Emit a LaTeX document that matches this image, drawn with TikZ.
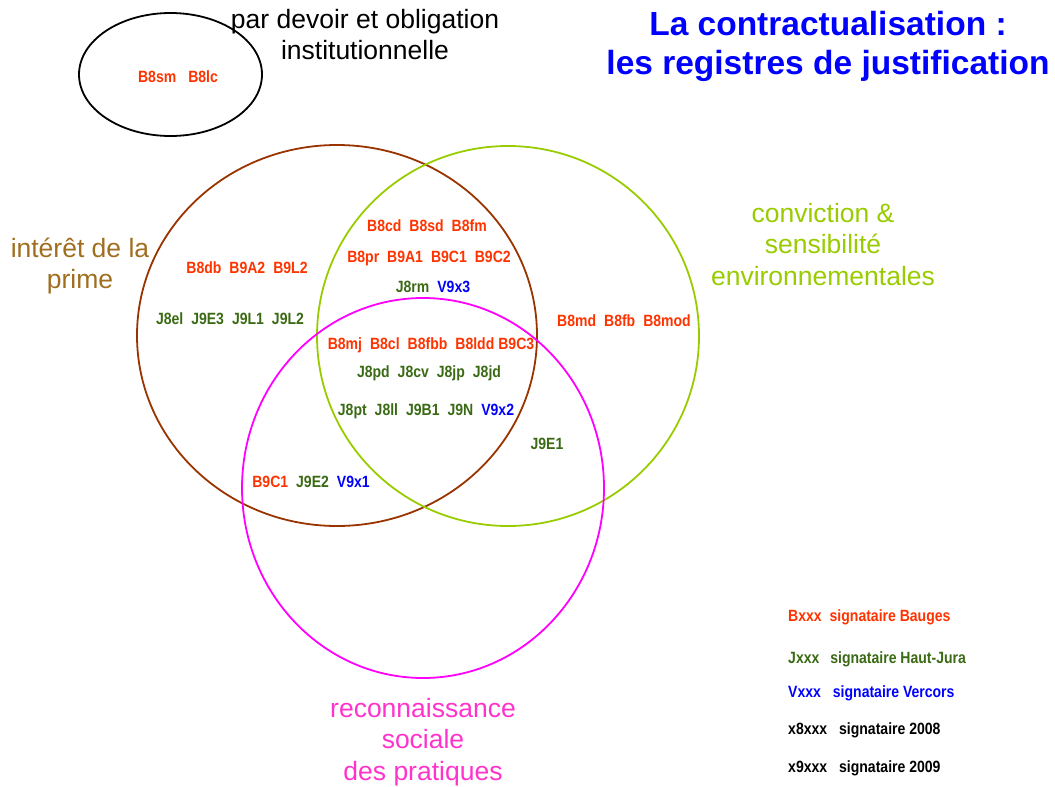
\documentclass[tikz,border=0pt]{standalone}
\usepackage{fontspec}
\setmainfont{Liberation Sans}
\newfontfamily\narrowsans[FakeStretch=0.86]{Liberation Sans}
\usetikzlibrary{shapes.geometric}
\definecolor{bauges}{HTML}{FF3300}
\definecolor{jura}{HTML}{3A6A14}
\definecolor{vercors}{HTML}{0000FF}
\definecolor{ringbrown}{HTML}{993300}
\definecolor{ringgreen}{HTML}{99CC00}
\definecolor{ringpink}{HTML}{FF00FF}
\definecolor{primetext}{HTML}{9F6F1F}
\definecolor{socialtext}{HTML}{FF33CC}
\tikzstyle{ring} = [ellipse, draw, line width=1.8pt, inner sep=0pt]
\tikzstyle{code} = [font=\narrowsans\bfseries\fontsize{16.3}{19}\selectfont, inner sep=0pt, anchor=base]
\tikzstyle{legend} = [code, anchor=base west]
\tikzstyle{theme} = [font=\fontsize{26.5}{31.5}\selectfont, align=center, inner sep=0pt]
\tikzstyle{titre} = [font=\bfseries\fontsize{33.5}{39}\selectfont, align=center, inner sep=0pt, text=vercors]
\newcommand{\esp}{\hspace{8pt}}
\begin{document}
\begin{tikzpicture}[x=1pt, y=-1pt]
	\useasboundingbox (0,0) rectangle (1055,787);
	% rings
	\node (devoir) [ring, draw=black, minimum width=183pt, minimum height=123pt] at (170.5,74.5) {};
	\node (interet) [ring, draw=ringbrown, minimum width=400pt, minimum height=381pt] at (337,335.5) {};
	\node (conviction) [ring, draw=ringgreen, minimum width=382pt, minimum height=380pt] at (508,336) {};
	\node (social) [ring, draw=ringpink, minimum width=362pt, minimum height=380pt] at (423,488) {};
	% titles of the registers
	\node (titre) [titre] at (828,46) {La contractualisation :\\les registres de justification};
	\node (devoirlab) [theme] at (365,34.5) {par devoir et obligation\\institutionnelle};
	\node (primelab) [theme, text=primetext] at (80,266) {intérêt de la\\prime};
	\node (convlab) [theme, text=ringgreen] at (823,244.5) {conviction \&\\sensibilité\\environnementales};
	\node (sociallab) [theme, text=socialtext] at (423,742) {reconnaissance\\sociale\\des pratiques};
	% signataires
	\node (s1) [code, text=bauges] at (178,82) {B8sm\hspace{12pt}B8lc};
	\node (s2) [code, text=bauges] at (247,273) {B8db\esp B9A2\esp B9L2};
	\node (s3) [code, text=jura] at (230,324) {J8el\esp J9E3\esp J9L1\esp J9L2};
	\node (s4) [code, text=bauges] at (427,231) {B8cd\esp B8sd\esp B8fm};
	\node (s5) [code, text=bauges] at (429,262) {B8pr\esp B9A1\esp B9C1\esp B9C2};
	\node (s6) [code] at (433,292) {\textcolor{jura}{J8rm}\esp\textcolor{vercors}{V9x3}};
	\node (s7) [code, text=bauges] at (624,326) {B8md\esp B8fb\esp B8mod};
	\node (s8) [code, text=bauges] at (431,349) {B8mj\esp B8cl\esp B8fbb\esp B8ldd\hspace{4pt}B9C3};
	\node (s9) [code, text=jura] at (429,377) {J8pd\esp J8cv\esp J8jp\esp J8jd};
	\node (s10) [code] at (426,415) {\textcolor{jura}{J8pt\esp J8ll\esp J9B1\esp J9N}\esp\textcolor{vercors}{V9x2}};
	\node (s11) [code, text=jura] at (547,449) {J9E1};
	\node (s12) [code] at (311,487) {\textcolor{bauges}{B9C1}\esp\textcolor{jura}{J9E2}\esp\textcolor{vercors}{V9x1}};
	% legend
	\node (leg1) [legend, text=bauges] at (788,621) {Bxxx\esp signataire Bauges};
	\node (leg2) [legend, text=jura] at (788,663) {Jxxx\hspace{11pt}signataire Haut-Jura};
	\node (leg3) [legend, text=vercors] at (788,697) {Vxxx\hspace{12pt}signataire Vercors};
	\node (leg4) [legend] at (788,734) {x8xxx\hspace{12pt}signataire 2008};
	\node (leg5) [legend] at (788,772) {x9xxx\hspace{12pt}signataire 2009};
\end{tikzpicture}
\end{document}
